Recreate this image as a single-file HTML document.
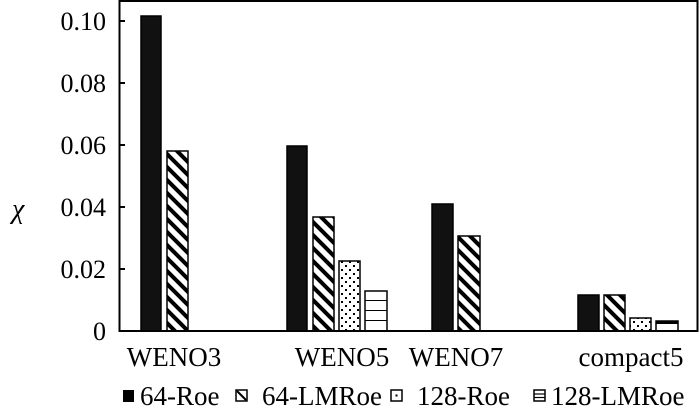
<!DOCTYPE html>
<html><head><meta charset="utf-8"><style>body{margin:0;background:#fff}svg{display:block}</style></head><body>
<svg width="700" height="418" viewBox="0 0 700 418" xmlns="http://www.w3.org/2000/svg" font-family="Liberation Serif, serif">
<defs>
<pattern id="hat" patternUnits="userSpaceOnUse" width="13" height="13">
<rect width="13" height="13" fill="#fff"/>
<path d="M0,0 L13,13 M-6.5,6.5 L6.5,19.5 M6.5,-6.5 L19.5,6.5" stroke="#000" stroke-width="4"/>
</pattern>
<pattern id="dot" patternUnits="userSpaceOnUse" width="8" height="8">
<rect width="8" height="8" fill="#fff"/>
<rect x="1" y="1" width="2" height="2" fill="#000"/>
<rect x="5" y="5" width="2" height="2" fill="#000"/>
</pattern>
<pattern id="hl" patternUnits="userSpaceOnUse" width="10" height="10" y="291">
<rect width="10" height="10" fill="#fff"/>
<rect y="9" width="10" height="2" fill="#000"/>
</pattern>
</defs>
<rect x="119.5" y="1" width="578" height="330" fill="none" stroke="#000" stroke-width="2"/>
<g stroke="#000" stroke-width="2">
<line x1="120" y1="21" x2="125" y2="21"/><line x1="120" y1="83" x2="125" y2="83"/>
<line x1="120" y1="145" x2="125" y2="145"/><line x1="120" y1="207" x2="125" y2="207"/>
<line x1="120" y1="269" x2="125" y2="269"/>
</g>
<g font-size="26" text-anchor="end">
<text x="106" y="30">0.10</text><text x="106" y="92">0.08</text><text x="106" y="154">0.06</text>
<text x="106" y="216">0.04</text><text x="106" y="278">0.02</text><text x="106" y="340">0</text>
</g>
<text x="12" y="218" font-size="28" font-style="italic" font-family="Liberation Serif, serif">χ</text>
<g stroke="#000" stroke-width="1.5">
<rect x="141" y="16" width="20" height="315" fill="#111"/>
<rect x="167" y="151" width="21" height="180" fill="url(#hat)"/>
<rect x="287" y="146" width="20" height="185" fill="#111"/>
<rect x="313" y="217" width="21" height="114" fill="url(#hat)"/>
<rect x="339" y="261" width="21" height="70" fill="url(#dot)"/>
<rect x="365" y="291" width="22" height="40" fill="url(#hl)"/>
<rect x="432" y="204" width="21" height="127" fill="#111"/>
<rect x="458" y="236" width="22" height="95" fill="url(#hat)"/>
<rect x="578" y="295" width="21" height="36" fill="#111"/>
<rect x="604" y="295" width="21" height="36" fill="url(#hat)"/>
<rect x="630" y="318" width="21" height="13" fill="url(#dot)"/>
<rect x="656" y="321" width="22" height="10" fill="#fff"/>
</g>
<rect x="656" y="321" width="22" height="3" fill="#000"/>
<line x1="119" y1="331" x2="698" y2="331" stroke="#000" stroke-width="2"/>
<g font-size="27" text-anchor="middle">
<text x="174" y="366">WENO3</text><text x="342" y="366">WENO5</text>
<text x="456" y="366">WENO7</text><text x="631" y="366">compact5</text>
</g>
<g font-size="27">
<rect x="123" y="390" width="11" height="12" fill="#000"/>
<text x="140" y="405">64-Roe</text>
<rect x="236" y="390" width="11" height="11" fill="#fff" stroke="#000" stroke-width="1.5"/>
<line x1="237" y1="391" x2="246" y2="400" stroke="#000" stroke-width="2"/>
<text x="262" y="405">64-LMRoe</text>
<rect x="391" y="390" width="11" height="11" fill="#fff" stroke="#000" stroke-width="1.5"/>
<rect x="395.5" y="394.5" width="2" height="2" fill="#000"/>
<text x="417" y="405">128-Roe</text>
<rect x="534" y="390" width="11" height="11" fill="#fff" stroke="#000" stroke-width="1.5"/>
<line x1="534" y1="394" x2="545" y2="394" stroke="#000" stroke-width="1.2"/>
<line x1="534" y1="397.5" x2="545" y2="397.5" stroke="#000" stroke-width="1.2"/>
<text x="551" y="405">128-LMRoe</text>
</g>
</svg>
</body></html>
